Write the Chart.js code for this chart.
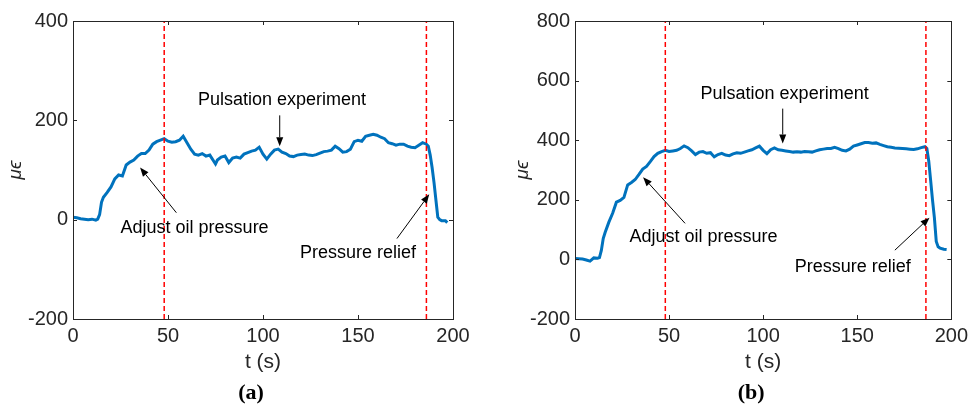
<!DOCTYPE html>
<html>
<head>
<meta charset="utf-8">
<script src="https://cdn.jsdelivr.net/npm/chart.js@4.4.1/dist/chart.umd.min.js"></script>
<style>
  html, body { margin: 0; padding: 0; background: #fff; }
  #wrap { position: relative; width: 973px; height: 408px; overflow: hidden; }
  canvas { position: absolute; top: 0; }
  #cA { left: 0; }
  #cB { left: 486px; }
</style>
</head>
<body>
<div id="wrap">
  <canvas id="cA" width="486" height="408"></canvas>
  <canvas id="cB" width="487" height="408"></canvas>
</div>
<script>
// ---------- data ----------
const xTicks = [0, 50, 100, 150, 200];
const yTicksA = [-200, 0, 200, 400];
const yTicksB = [-200, 0, 200, 400, 600, 800];

const timeA = [0,2,4,6,8,10,12,13,14,15,16,18,20,22,24,26,28,30,32,34,36,38,40,42,44,46,48,50,52,54,56,58,60,62,64,66,68,70,72,74,75,76,78,80,82,84,86,88,90,92,94,96,98,100,102,104,106,108,110,112,114,116,118,120,122,124,126,128,130,132,134,136,138,140,142,144,146,148,150,152,154,156,158,160,162,164,166,168,170,172,174,176,178,180,182,184,186,187,188,189,190,191,192,193,194,196,197];
const strainA = [5,4,2,1,0,1,-1,1,10,35,45,55,66,82,90,88,110,116,120,128,133,133,140,152,157,160,163,158,156,157,160,168,155,142,132,130,133,128,130,118,112,120,126,128,115,124,126,124,132,135,138,140,146,132,122,132,140,142,136,133,128,127,130,131,132,130,129,131,134,137,138,140,148,143,136,137,142,157,160,158,168,170,172,170,166,163,155,153,150,152,152,148,146,145,150,155,152,148,130,105,75,40,5,0,-2,-2,-6];

const timeB = [0,2,4,6,8,10,12,13,14,15,16,18,20,22,24,26,28,30,32,34,36,38,40,42,44,46,48,50,52,54,56,58,60,62,64,66,68,70,72,74,76,78,80,82,84,86,88,90,92,94,96,98,100,102,104,106,108,110,112,114,116,118,120,122,124,126,128,130,132,134,136,138,140,142,144,146,148,150,152,154,156,158,160,162,164,166,168,170,172,174,176,178,180,182,184,186,187,188,189,190,191,192,193,194,196,197.5];
const strainB = [3,2,1,-2,-6,5,4,6,30,70,90,125,155,192,198,208,250,258,268,285,303,312,328,345,356,362,366,362,364,366,372,381,375,364,352,360,362,356,358,344,352,356,350,348,354,358,356,360,364,368,374,380,366,355,368,374,368,366,364,362,360,361,360,362,361,360,364,368,370,372,372,376,372,366,364,370,380,384,388,392,392,390,391,386,382,378,376,374,373,372,371,370,369,371,375,378,372,330,266,200,140,60,42,38,34,33];

const markersA = [48, 186];
const markersB = [48, 186.5];

const labelsText = ["Pulsation experiment", "Adjust oil pressure", "Pressure relief"];
// annotation text centres (t, value) and arrows [fromT, fromV, toT, toV]
const textPosA = [[110, 240], [64, -16], [150, -68]];
const arrowsA = [[108.8, 210, 108.8, 148], [54.4, 14, 35.3, 105], [170.5, -38, 187.5, 51]];
const textPosB = [[111.4, 556], [68.3, 74], [147.6, -25]];
const arrowsB = [[110.4, 506, 110.4, 389], [58.5, 121, 36.2, 276], [170, 31, 188.4, 140]];

// ---------- drawing helpers ----------
const AXIS = '#262626';
const FONT = "'Liberation Sans', Arial, sans-serif";

const decoPlugin = {
  id: 'deco',
  afterDatasetsDraw(chart, args, opts) {
    const {ctx, chartArea: a, scales: {x, y}} = chart;
    ctx.save();
    // box + inward ticks
    ctx.strokeStyle = AXIS;
    ctx.lineWidth = 1;
    ctx.strokeRect(Math.round(a.left) + 0.5, Math.round(a.top) + 0.5, Math.round(a.right - a.left), Math.round(a.bottom - a.top));
    ctx.beginPath();
    x.ticks.forEach(t => {
      const px = Math.round(x.getPixelForValue(t.value)) + 0.5;
      ctx.moveTo(px, a.bottom); ctx.lineTo(px, a.bottom - 4);
      ctx.moveTo(px, a.top); ctx.lineTo(px, a.top + 4);
    });
    y.ticks.forEach(t => {
      const py = Math.round(y.getPixelForValue(t.value)) + 0.5;
      ctx.moveTo(a.left, py); ctx.lineTo(a.left + 4, py);
      ctx.moveTo(a.right, py); ctx.lineTo(a.right - 4, py);
    });
    ctx.stroke();
    // annotations
    ctx.fillStyle = '#000';
    ctx.font = "18px " + FONT;
    ctx.textAlign = 'center';
    ctx.textBaseline = 'middle';
    opts.texts.forEach((p, i) => {
      ctx.fillText(labelsText[i], x.getPixelForValue(p[0]), y.getPixelForValue(p[1]));
    });
    ctx.strokeStyle = '#000';
    ctx.lineWidth = 1;
    opts.arrows.forEach(ar => {
      const x0 = x.getPixelForValue(ar[0]), y0 = y.getPixelForValue(ar[1]);
      const x1 = x.getPixelForValue(ar[2]), y1 = y.getPixelForValue(ar[3]);
      const ang = Math.atan2(y1 - y0, x1 - x0);
      const L = 9, W = 3.5;
      const bx = x1 - L * Math.cos(ang), by = y1 - L * Math.sin(ang);
      ctx.beginPath();
      ctx.moveTo(x0, y0); ctx.lineTo(bx, by);
      ctx.stroke();
      ctx.beginPath();
      ctx.moveTo(x1, y1);
      ctx.lineTo(bx + W * Math.sin(ang), by - W * Math.cos(ang));
      ctx.lineTo(bx - W * Math.sin(ang), by + W * Math.cos(ang));
      ctx.closePath();
      ctx.fill();
    });
    // panel label
    ctx.font = "bold 22px 'Liberation Serif', 'Times New Roman', serif";
    ctx.fillText(opts.panel, (a.left + a.right) / 2 + opts.panelDx, 393);
    ctx.restore();
  }
};

function makeChart(id, time, strain, markers, yMin, yMax, yTickVals, yAxisWidth, yTitlePad, rightPad, texts, arrows, panel, panelDx) {
  const line = time.map((t, i) => ({x: t, y: strain[i]}));
  const datasets = [{
    data: line, borderColor: '#0072BD', borderWidth: 3, pointRadius: 0, tension: 0, order: 1
  }];
  markers.forEach(m => datasets.push({
    data: [{x: m, y: yMin}, {x: m, y: yMax}],
    borderColor: '#FF0000', borderWidth: 1.5, borderDash: [5, 3], pointRadius: 0, order: 0
  }));
  return new Chart(document.getElementById(id), {
    type: 'line',
    data: {datasets},
    options: {
      responsive: false, animation: false, devicePixelRatio: 1,
      layout: {padding: {left: 0, right: rightPad, top: 21, bottom: 0}},
      plugins: {legend: {display: false}, tooltip: {enabled: false},
        deco: {texts, arrows, panel, panelDx}},
      scales: {
        x: {
          type: 'linear', min: 0, max: 200,
          afterBuildTicks: s => { s.ticks = xTicks.map(v => ({value: v})); },
          afterFit: s => { s.height = 89; },
          grid: {display: false, drawTicks: false},
          border: {display: false},
          ticks: {font: {size: 20, family: FONT}, color: AXIS, padding: 5, maxRotation: 0},
          title: {display: true, text: 't (s)', font: {size: 21, family: FONT}, color: AXIS, padding: {top: 0, bottom: 33}}
        },
        y: {
          type: 'linear', min: yMin, max: yMax,
          afterBuildTicks: s => { s.ticks = yTickVals.map(v => ({value: v})); },
          afterFit: s => { s.width = yAxisWidth; },
          grid: {display: false, drawTicks: false},
          border: {display: false},
          ticks: {font: {size: 20, family: FONT}, color: AXIS, padding: 5},
          title: {display: true, text: 'μϵ', font: {size: 19, style: 'italic', family: FONT}, color: AXIS, padding: {top: yTitlePad, bottom: 0}}
        }
      }
    },
    plugins: [decoPlugin]
  });
}

makeChart('cA', timeA, strainA, markersA, -200, 400, yTicksA, 73, 4, 33, textPosA, arrowsA, '(a)', -12);
makeChart('cB', timeB, strainB, markersB, -200, 800, yTicksB, 89, 25, 19, textPosB, arrowsB, '(b)', -12);
</script>
</body>
</html>
